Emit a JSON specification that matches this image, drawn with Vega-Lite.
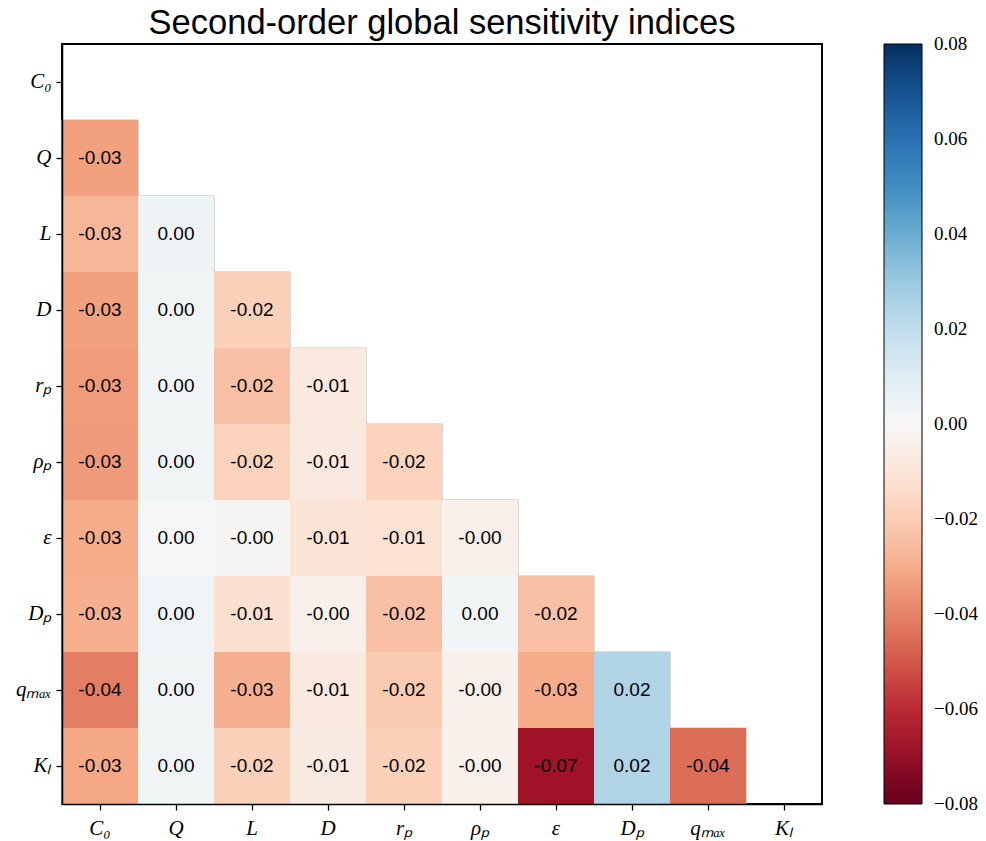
{
  "$schema": "https://vega.github.io/schema/vega-lite/v6.json",
  "width": 760,
  "height": 760,
  "autosize": {"type": "none"},
  "padding": {"left": 62, "top": 44, "right": 164, "bottom": 37},
  "background": "white",
  "title": {
    "text": "Second-order global sensitivity indices",
    "font": "Liberation Sans",
    "fontSize": 34.5,
    "fontWeight": "normal",
    "color": "black",
    "anchor": "middle",
    "frame": "group",
    "offset": 3
  },
  "data": {
    "values": [
      {"row": "Q", "col": "C₀", "v": -0.033, "label": "-0.03"},

      {"row": "L", "col": "C₀", "v": -0.027, "label": "-0.03"},
      {"row": "L", "col": "Q", "v": 0.004, "label": "0.00"},

      {"row": "D", "col": "C₀", "v": -0.033, "label": "-0.03"},
      {"row": "D", "col": "Q", "v": 0.002, "label": "0.00"},
      {"row": "D", "col": "L", "v": -0.019, "label": "-0.02"},

      {"row": "rₚ", "col": "C₀", "v": -0.034, "label": "-0.03"},
      {"row": "rₚ", "col": "Q", "v": 0.002, "label": "0.00"},
      {"row": "rₚ", "col": "L", "v": -0.024, "label": "-0.02"},
      {"row": "rₚ", "col": "D", "v": -0.008, "label": "-0.01"},

      {"row": "ρₚ", "col": "C₀", "v": -0.0345, "label": "-0.03"},
      {"row": "ρₚ", "col": "Q", "v": 0.002, "label": "0.00"},
      {"row": "ρₚ", "col": "L", "v": -0.018, "label": "-0.02"},
      {"row": "ρₚ", "col": "D", "v": -0.008, "label": "-0.01"},
      {"row": "ρₚ", "col": "rₚ", "v": -0.018, "label": "-0.02"},

      {"row": "ε", "col": "C₀", "v": -0.030, "label": "-0.03"},
      {"row": "ε", "col": "Q", "v": 0.001, "label": "0.00"},
      {"row": "ε", "col": "L", "v": -0.001, "label": "-0.00"},
      {"row": "ε", "col": "D", "v": -0.011, "label": "-0.01"},
      {"row": "ε", "col": "rₚ", "v": -0.012, "label": "-0.01"},
      {"row": "ε", "col": "ρₚ", "v": -0.004, "label": "-0.00"},

      {"row": "Dₚ", "col": "C₀", "v": -0.029, "label": "-0.03"},
      {"row": "Dₚ", "col": "Q", "v": 0.003, "label": "0.00"},
      {"row": "Dₚ", "col": "L", "v": -0.013, "label": "-0.01"},
      {"row": "Dₚ", "col": "D", "v": -0.004, "label": "-0.00"},
      {"row": "Dₚ", "col": "rₚ", "v": -0.024, "label": "-0.02"},
      {"row": "Dₚ", "col": "ρₚ", "v": 0.002, "label": "0.00"},
      {"row": "Dₚ", "col": "ε", "v": -0.024, "label": "-0.02"},

      {"row": "qₘₐₓ", "col": "C₀", "v": -0.041, "label": "-0.04"},
      {"row": "qₘₐₓ", "col": "Q", "v": 0.002, "label": "0.00"},
      {"row": "qₘₐₓ", "col": "L", "v": -0.029, "label": "-0.03"},
      {"row": "qₘₐₓ", "col": "D", "v": -0.008, "label": "-0.01"},
      {"row": "qₘₐₓ", "col": "rₚ", "v": -0.021, "label": "-0.02"},
      {"row": "qₘₐₓ", "col": "ρₚ", "v": -0.004, "label": "-0.00"},
      {"row": "qₘₐₓ", "col": "ε", "v": -0.030, "label": "-0.03"},
      {"row": "qₘₐₓ", "col": "Dₚ", "v": 0.0245, "label": "0.02"},

      {"row": "Kₗ", "col": "C₀", "v": -0.031, "label": "-0.03"},
      {"row": "Kₗ", "col": "Q", "v": 0.002, "label": "0.00"},
      {"row": "Kₗ", "col": "L", "v": -0.019, "label": "-0.02"},
      {"row": "Kₗ", "col": "D", "v": -0.007, "label": "-0.01"},
      {"row": "Kₗ", "col": "rₚ", "v": -0.019, "label": "-0.02"},
      {"row": "Kₗ", "col": "ρₚ", "v": -0.004, "label": "-0.00"},
      {"row": "Kₗ", "col": "ε", "v": -0.068, "label": "-0.07"},
      {"row": "Kₗ", "col": "Dₚ", "v": 0.0245, "label": "0.02"},
      {"row": "Kₗ", "col": "qₘₐₓ", "v": -0.045, "label": "-0.04"}
    ]
  },
  "encoding": {
    "x": {
      "field": "col",
      "type": "nominal",
      "scale": {
        "domain": ["C₀", "Q", "L", "D", "rₚ", "ρₚ", "ε", "Dₚ", "qₘₐₓ", "Kₗ"],
        "paddingInner": 0,
        "paddingOuter": 0
      },
      "axis": {
        "orient": "bottom",
        "title": null,
        "labelAngle": 0,
        "labelFont": "Liberation Serif",
        "labelFontStyle": "italic",
        "labelFontSize": 21,
        "labelColor": "black",
        "labelPadding": 7,
        "tickColor": "black",
        "tickSize": 6,
        "tickWidth": 1.3,
        "domainColor": "black",
        "domainWidth": 1.5
      }
    },
    "y": {
      "field": "row",
      "type": "nominal",
      "scale": {
        "domain": ["C₀", "Q", "L", "D", "rₚ", "ρₚ", "ε", "Dₚ", "qₘₐₓ", "Kₗ"],
        "paddingInner": 0,
        "paddingOuter": 0
      },
      "axis": {
        "orient": "left",
        "title": null,
        "labelFont": "Liberation Serif",
        "labelFontStyle": "italic",
        "labelFontSize": 21,
        "labelColor": "black",
        "labelPadding": 5,
        "tickColor": "black",
        "tickSize": 6,
        "tickWidth": 1.3,
        "domainColor": "black",
        "domainWidth": 1.5
      }
    }
  },
  "layer": [
    {
      "mark": {"type": "rect", "stroke": "#bdbdbd", "strokeWidth": 1.2},
      "encoding": {
        "color": {
          "field": "v",
          "type": "quantitative",
          "scale": {
            "domain": [-0.08, -0.064, -0.048, -0.032, -0.016, 0, 0.016, 0.032, 0.048, 0.064, 0.08],
            "range": ["#67001f", "#b2182b", "#d6604d", "#f4a582", "#fddbc7", "#f7f7f7", "#d1e5f0", "#92c5de", "#4393c3", "#2166ac", "#053061"],
            "interpolate": "rgb"
          },
          "legend": {
            "orient": "none",
            "legendX": 822,
            "legendY": 0,
            "direction": "vertical",
            "title": null,
            "gradientLength": 760,
            "gradientThickness": 38,
            "gradientStrokeColor": "black",
            "gradientStrokeWidth": 1,
            "values": [-0.08, -0.06, -0.04, -0.02, 0, 0.02, 0.04, 0.06, 0.08],
            "format": ".2f",
            "labelFont": "Liberation Serif",
            "labelFontSize": 19,
            "labelColor": "black",
            "labelOffset": 12,
            "labelBaseline": "middle",
            "labelOverlap": false,
            "encode": {
              "labels": {
                "update": {
                  "baseline": {"value": "middle"},
                  "font": {"value": "Liberation Serif"}
                }
              }
            }
          }
        }
      }
    },
    {
      "mark": {"type": "rect"},
      "encoding": {
        "color": {"field": "v", "type": "quantitative"}
      }
    },
    {
      "mark": {"type": "text", "font": "Liberation Sans", "fontSize": 19, "color": "black"},
      "encoding": {
        "text": {"field": "label", "type": "nominal"}
      }
    }
  ],
  "config": {
    "view": {"stroke": "black", "strokeWidth": 2}
  }
}
